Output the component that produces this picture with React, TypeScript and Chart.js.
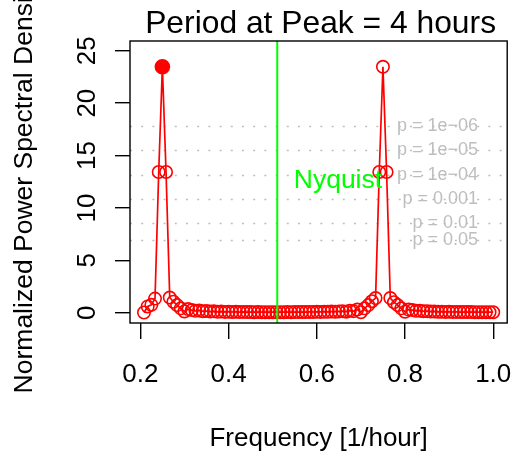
import { useEffect, useRef } from "react";
import { Chart, registerables } from "chart.js";

Chart.register(...registerables);

// ---- data ----
const frequencies = [
  0.2083, 0.2167, 0.225, 0.2333, 0.2417, 0.25, 0.2583, 0.2667, 0.275, 0.2833,
  0.2917, 0.3, 0.3083, 0.3167, 0.325, 0.3333, 0.3417, 0.35, 0.3583, 0.3667,
  0.375, 0.3833, 0.3917, 0.4, 0.4083, 0.4167, 0.425, 0.4333, 0.4417, 0.45,
  0.4583, 0.4667, 0.475, 0.4833, 0.4917, 0.5, 0.5083, 0.5167, 0.525, 0.5333,
  0.5417, 0.55, 0.5583, 0.5667, 0.575, 0.5833, 0.5917, 0.6, 0.6083, 0.6167,
  0.625, 0.6333, 0.6417, 0.65, 0.6583, 0.6667, 0.675, 0.6833, 0.6917, 0.7,
  0.7083, 0.7167, 0.725, 0.7333, 0.7417, 0.75, 0.7583, 0.7667, 0.775, 0.7833,
  0.7917, 0.8, 0.8083, 0.8167, 0.825, 0.8333, 0.8417, 0.85, 0.8583, 0.8667,
  0.875, 0.8833, 0.8917, 0.9, 0.9083, 0.9167, 0.925, 0.9333, 0.9417, 0.95,
  0.9583, 0.9667, 0.975, 0.9833, 0.9917, 1.0,
];

const power = [
  0.02, 0.6, 0.75, 1.35, 13.43, 23.47, 13.43, 1.45, 1.05, 0.73,
  0.42, 0.12, 0.35, 0.25, 0.18, 0.22, 0.14, 0.16, 0.11, 0.13,
  0.09, 0.11, 0.08, 0.1, 0.07, 0.09, 0.06, 0.08, 0.06, 0.07,
  0.05, 0.06, 0.05, 0.05, 0.05, 0.05, 0.05, 0.05, 0.05, 0.06,
  0.05, 0.06, 0.06, 0.07, 0.06, 0.08, 0.07, 0.09, 0.08, 0.1,
  0.09, 0.11, 0.1, 0.12, 0.15, 0.1, 0.2, 0.15, 0.3, 0.05,
  0.42, 0.73, 1.1, 1.4, 13.43, 23.47, 13.43, 1.4, 1.0, 0.73,
  0.42, 0.1, 0.3, 0.25, 0.18, 0.2, 0.14, 0.15, 0.11, 0.12,
  0.09, 0.1, 0.08, 0.09, 0.07, 0.08, 0.06, 0.07, 0.06, 0.06,
  0.05, 0.05, 0.05, 0.05, 0.05, 0.05,
];

const peakIndex = 5; // filled point at the peak frequency

const xTicks = [0.2, 0.4, 0.6, 0.8, 1.0];
const xTickLabels = ["0.2", "0.4", "0.6", "0.8", "1.0"];
const yTicks = [0, 5, 10, 15, 20, 25];
const yTickLabels = ["0", "5", "10", "15", "20", "25"];

const sigLevels = [17.81, 15.52, 13.14, 10.85, 8.56, 6.91];
const sigLabels = [
  "p = 1e\u221206",
  "p = 1e\u221205",
  "p = 1e\u221204",
  "p = 0.001",
  "p = 0.01",
  "p = 0.05",
];

const nyquistFreq = 0.5104;
const nyquistLabel = "Nyquist";
const nyquistLabelX = 0.648;
const nyquistLabelY = 12.78;

const titleText = "Period at Peak = 4 hours";
const xTitle = "Frequency [1/hour]";
const yTitle = "Normalized Power Spectral Density";

const X_MIN = 0.1766;
const X_MAX = 1.0317;
const Y_MIN = -0.98;
const Y_MAX = 25.93;

const FONT = "'Liberation Sans', Arial, Helvetica, sans-serif";

const overlayPlugin = {
  id: "overlay",
  beforeDatasetsDraw(chart: any) {
    const { ctx, chartArea, scales } = chart;
    const ys = scales.y;
    ctx.save();
    ctx.strokeStyle = "#BEBEBE";
    ctx.lineWidth = 1.6;
    ctx.setLineDash([2, 9.2]);
    sigLevels.forEach((lv) => {
      const py = Math.round(ys.getPixelForValue(lv)) + 0.5;
      ctx.beginPath();
      ctx.moveTo(chartArea.left, py);
      ctx.lineTo(chartArea.right, py);
      ctx.stroke();
    });
    ctx.restore();
  },
  afterDatasetsDraw(chart: any) {
    const { ctx, chartArea, scales } = chart;
    const xs = scales.x;
    const ys = scales.y;
    ctx.save();

    // significance labels
    ctx.fillStyle = "#BEBEBE";
    ctx.font = `18px ${FONT}`;
    ctx.textAlign = "right";
    ctx.textBaseline = "alphabetic";
    sigLevels.forEach((lv, i) => {
      const py = ys.getPixelForValue(lv);
      ctx.fillText(sigLabels[i], 478, py + 5);
    });

    // Nyquist line
    const nx = xs.getPixelForValue(nyquistFreq);
    ctx.strokeStyle = "#00FF00";
    ctx.lineWidth = 2;
    ctx.beginPath();
    ctx.moveTo(nx, chartArea.top);
    ctx.lineTo(nx, chartArea.bottom);
    ctx.stroke();

    // Nyquist label
    ctx.fillStyle = "#00FF00";
    ctx.font = `26.5px ${FONT}`;
    ctx.textAlign = "center";
    ctx.fillText(
      nyquistLabel,
      xs.getPixelForValue(nyquistLabelX),
      ys.getPixelForValue(nyquistLabelY) + 9.5
    );

    // box
    ctx.strokeStyle = "#000";
    ctx.lineWidth = 1.4;
    ctx.strokeRect(
      chartArea.left,
      chartArea.top,
      chartArea.right - chartArea.left,
      chartArea.bottom - chartArea.top
    );

    // tick labels
    ctx.fillStyle = "#000";
    ctx.font = `26px ${FONT}`;
    ctx.textAlign = "center";
    ctx.textBaseline = "alphabetic";
    xTicks.forEach((v, i) => {
      ctx.fillText(xTickLabels[i], xs.getPixelForValue(v), 382);
    });
    yTicks.forEach((v, i) => {
      ctx.save();
      ctx.translate(95, ys.getPixelForValue(v));
      ctx.rotate(-Math.PI / 2);
      ctx.fillText(yTickLabels[i], 0, 0);
      ctx.restore();
    });

    // axis titles
    const cx = (chartArea.left + chartArea.right) / 2;
    const cy = (chartArea.top + chartArea.bottom) / 2;
    ctx.fillText(xTitle, cx, 446);
    ctx.save();
    ctx.font = `26.5px ${FONT}`;
    ctx.translate(31.5, cy + 3);
    ctx.rotate(-Math.PI / 2);
    ctx.fillText(yTitle, 0, 0);
    ctx.restore();

    // main title
    ctx.font = `31.8px ${FONT}`;
    ctx.fillText(titleText, cx + 2, 33);

    ctx.restore();
  },
};

export default function App() {
  const canvasRef = useRef<HTMLCanvasElement | null>(null);

  useEffect(() => {
    const canvas = canvasRef.current;
    if (!canvas) return;
    const chart = new Chart(canvas, {
      type: "line",
      data: {
        datasets: [
          {
            data: frequencies.map((f, i) => ({ x: f, y: power[i] })),
            borderColor: "#FF0000",
            borderWidth: 1.7,
            tension: 0,
            pointRadius: power.map((_, i) => (i === peakIndex ? 7 : 6.2)),
            pointBorderWidth: 1.6,
            pointBorderColor: "#FF0000",
            pointBackgroundColor: power.map((_, i) =>
              i === peakIndex ? "#FF0000" : "rgba(0,0,0,0)"
            ),
            pointStyle: "circle",
          },
        ],
      },
      options: {
        responsive: false,
        animation: false,
        devicePixelRatio: 1,
        layout: { padding: { top: 41, right: 7, left: 0, bottom: 0 } },
        plugins: {
          legend: { display: false },
          tooltip: { enabled: false },
        },
        scales: {
          x: {
            type: "linear",
            min: X_MIN,
            max: X_MAX,
            afterBuildTicks: (s: any) => {
              s.ticks = xTicks.map((v) => ({ value: v }));
            },
            afterFit: (s: any) => {
              s.height = 128;
            },
            ticks: { display: false },
            grid: {
              drawOnChartArea: false,
              drawTicks: true,
              tickLength: 16,
              color: "#000",
              lineWidth: 1.4,
            },
            border: { display: false },
          },
          y: {
            type: "linear",
            min: Y_MIN,
            max: Y_MAX,
            afterBuildTicks: (s: any) => {
              s.ticks = yTicks.map((v) => ({ value: v }));
            },
            afterFit: (s: any) => {
              s.width = 130;
            },
            ticks: { display: false },
            grid: {
              drawOnChartArea: false,
              drawTicks: true,
              tickLength: 15,
              color: "#000",
              lineWidth: 1.4,
            },
            border: { display: false },
          },
        },
      },
      plugins: [overlayPlugin],
    });
    return () => chart.destroy();
  }, []);

  return (
    <div
      style={{
        position: "fixed",
        left: 0,
        top: 0,
        width: 515,
        height: 451,
        background: "#fff",
      }}
    >
      <canvas
        ref={canvasRef}
        width={515}
        height={451}
        style={{ width: 515, height: 451, display: "block" }}
      />
    </div>
  );
}
